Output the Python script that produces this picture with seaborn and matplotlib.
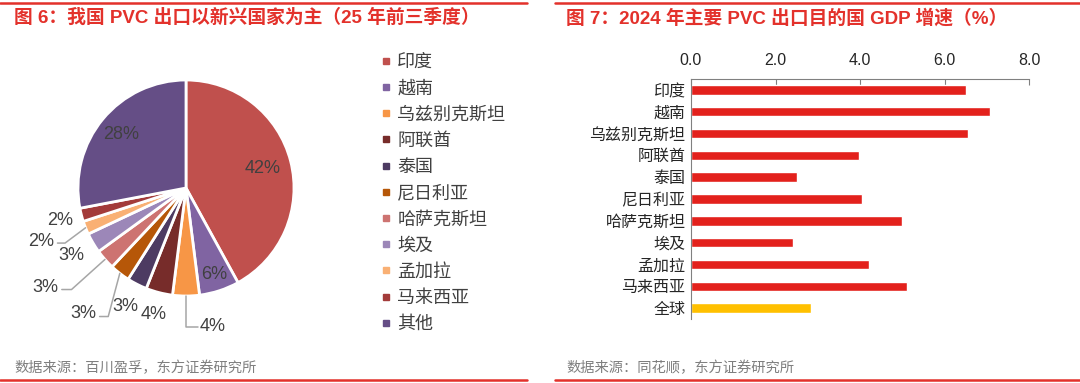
import numpy as np
import pandas as pd
import matplotlib
matplotlib.use('Agg')
import matplotlib.pyplot as plt
from matplotlib.lines import Line2D
import seaborn as sns

# ---- data: figure 6 (pie) ----
pie_labels = ['印度', '越南', '乌兹别克斯坦', '阿联酋', '泰国', '尼日利亚',
              '哈萨克斯坦', '埃及', '孟加拉', '马来西亚', '其他']
pie_shares = [42, 6, 4, 4, 3, 3, 3, 3, 2, 2, 28]
pie_colors = ['#C0504D', '#8064A2', '#F79646', '#772C2A', '#4D3B62', '#B65708',
              '#CD7371', '#9C87B8', '#F9B074', '#A33B3A', '#654E86']

# ---- data: figure 7 (bar) ----
gdp_countries = ['印度', '越南', '乌兹别克斯坦', '阿联酋', '泰国', '尼日利亚',
                 '哈萨克斯坦', '埃及', '孟加拉', '马来西亚', '全球']
gdp_growth = [6.50, 7.08, 6.56, 3.98, 2.52, 4.05, 5.00, 2.41, 4.22, 5.12, 2.84]
gdp_ticks = [0, 2, 4, 6, 8]

RED = '#E3312B'
GRAY_TXT = '#404040'

sns.set_style('white')
plt.rcParams['font.family'] = ['Liberation Sans', 'Noto Sans CJK SC', 'DejaVu Sans']

W, H = 1080, 383
fig = plt.figure(figsize=(W / 100, H / 100), dpi=100)


def px_axes(x0, y0, x1, y1):
    # pixel box (top-left origin) -> figure axes
    return fig.add_axes([x0 / W, 1 - y1 / H, (x1 - x0) / W, (y1 - y0) / H])


# frame lines and titles
for xa, xb in [(0, 527), (555, 1080)]:
    fig.add_artist(Line2D([xa / W, xb / W], [1 - 3 / H] * 2, color=RED, lw=1.8))
    fig.add_artist(Line2D([xa / W, xb / W], [1 - 380 / H] * 2, color=RED, lw=1.8))

fig.text(14 / W, 1 - 18 / H, '图 6：我国 PVC 出口以新兴国家为主（25 年前三季度）',
         color=RED, fontsize=13.5, fontweight='bold', va='center', ha='left')
fig.text(566 / W, 1 - 18 / H, '图 7：2024 年主要 PVC 出口目的国 GDP 增速（%）',
         color=RED, fontsize=13.5, fontweight='bold', va='center', ha='left')
fig.text(14 / W, 1 - 368 / H, '数据来源：百川盈孚，东方证券研究所',
         color='#7F7F7F', fontsize=10.3, va='center', ha='left')
fig.text(566 / W, 1 - 368 / H, '数据来源：同花顺，东方证券研究所',
         color='#7F7F7F', fontsize=10.3, va='center', ha='left')

# ---- pie ----
cx, cy, R = 186, 188, 108
axp = px_axes(cx - 1.5 * R, cy - 1.5 * R, cx + 1.5 * R, cy + 1.5 * R)
wedges, _ = axp.pie(pie_shares, colors=pie_colors, startangle=90, counterclock=False,
                    radius=1, wedgeprops=dict(edgecolor='white', linewidth=2))
axp.set_xlim(-1.5, 1.5)
axp.set_ylim(-1.5, 1.5)
axp.set_aspect('equal')
axp.axis('off')

# label placement styles: ('in', r), ('out', r), ('lead', elbow, end, text_xy, ha)
label_style = [
    ('in', 0.73), ('in', 0.84),
    ('lead', (None, -1.29), (0.11, -1.29), (0.13, -1.28), 'left'),
    ('out', 1.21), ('out', 1.23),
    ('lead', (-0.72, -1.19), (-0.80, -1.19), (-0.83, -1.16), 'right'),
    ('lead', (-1.06, -0.94), (-1.15, -0.94), (-1.18, -0.92), 'right'),
    ('out', 1.23),
    ('lead', (-1.12, -0.51), (-1.19, -0.51), (-1.22, -0.50), 'right'),
    ('out', 1.2), ('in', 0.78),
]
for w, share, st in zip(wedges, pie_shares, label_style):
    th = np.deg2rad((w.theta1 + w.theta2) / 2)
    txt = f'{share}%'
    if st[0] in ('in', 'out'):
        r = st[1]
        axp.text(r * np.cos(th), r * np.sin(th), txt, ha='center', va='center',
                 fontsize=13, color=GRAY_TXT)
    else:
        _, elbow, end, txy, ha = st
        ex, ey = np.cos(th), np.sin(th)
        bx = ex if elbow[0] is None else elbow[0]
        axp.plot([ex, bx, end[0]], [ey, elbow[1], end[1]], color='#A6A6A6', lw=1.1,
                 clip_on=False)
        axp.text(txy[0], txy[1], txt, ha=ha, va='center', fontsize=13, color=GRAY_TXT)

handles = [Line2D([], [], marker='s', ls='', markersize=4.5, color=c) for c in pie_colors]
fig.legend(handles, pie_labels, loc='upper left', bbox_to_anchor=(372 / W, 1 - 45 / H),
           frameon=False, fontsize=13, labelspacing=0.51, handlelength=0.6,
           handletextpad=0.3, borderpad=0, labelcolor=GRAY_TXT)

# ---- bar ----
axb = px_axes(691, 79, 1029, 319)
bar_colors = ['#FFC000' if c == '全球' else '#E3211C' for c in gdp_countries]
df = pd.DataFrame({'country': gdp_countries, 'growth': gdp_growth})
sns.barplot(data=df, x='growth', y='country', hue='country', palette=bar_colors,
            legend=False, width=0.43, saturation=1, ax=axb)
axb.set_xlim(0, 8)
axb.set_ylim(len(gdp_countries) - 0.5, -0.5)
axb.set_xticks(gdp_ticks)
axb.set_xticklabels([f'{t:.1f}' for t in gdp_ticks])
axb.xaxis.tick_top()
axb.set_xlabel('')
axb.set_ylabel('')
axb.tick_params(axis='x', direction='in', length=4, color='#808080', labelsize=11.5,
                labelcolor='#262626', pad=8, top=True, bottom=False)
axb.tick_params(axis='y', which='major', length=0, labelsize=11.5, labelcolor='#262626', pad=4)
axb.set_yticks(np.arange(len(gdp_countries) + 1) - 0.5, minor=True)
axb.tick_params(axis='y', which='minor', direction='in', length=4, color='#808080', width=0.8)
for s in ['bottom', 'right']:
    axb.spines[s].set_visible(False)
for s in ['top', 'left']:
    axb.spines[s].set_color('#808080')
    axb.spines[s].set_linewidth(0.8)

fig.savefig('out.png', dpi=100)
